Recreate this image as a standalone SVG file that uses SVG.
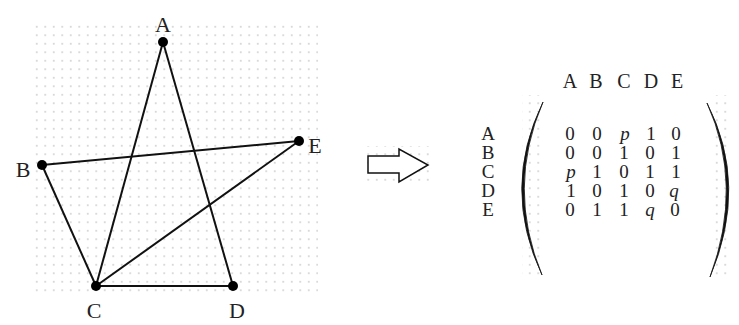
<svg xmlns="http://www.w3.org/2000/svg" width="739" height="325" viewBox="0 0 739 325">
<defs>
<pattern id="dots" x="33" y="23" width="8.5" height="8.5" patternUnits="userSpaceOnUse">
<rect x="3" y="3" width="1.5" height="1.5" fill="#c4c4c4"/>
</pattern>
<style>
.lbl{font-family:"Liberation Serif",serif;font-size:22px;fill:#222;}
.m{font-family:"Liberation Serif",serif;font-size:19px;fill:#222;text-anchor:middle;}
.h{font-family:"Liberation Serif",serif;font-size:20px;fill:#222;text-anchor:middle;}
.it{font-style:italic;}
.edge{stroke:#111;stroke-width:2;fill:none;}
.node{fill:#000;}
.paren{fill:#111;stroke:#111;stroke-width:0.8;}
</style>
</defs>
<rect width="739" height="325" fill="#fff"/>
<rect x="33" y="23" width="285" height="272" fill="url(#dots)"/>
<rect x="522" y="95" width="20" height="185" fill="url(#dots)"/>
<rect x="710" y="95" width="22" height="185" fill="url(#dots)"/>
<rect x="362" y="146" width="70" height="40" fill="url(#dots)"/>
<g id="connectors">
<line class="edge" x1="163" y1="42" x2="96" y2="286"/>
<line class="edge" x1="163" y1="42" x2="233" y2="286"/>
<line class="edge" x1="42" y1="165" x2="299" y2="141"/>
<line class="edge" x1="42" y1="165" x2="96" y2="286"/>
<line class="edge" x1="96" y1="286" x2="299" y2="141"/>
<line class="edge" x1="96" y1="286" x2="233" y2="286" stroke-width="2.5"/>
</g>
<g id="node-A"><circle class="node" cx="163" cy="42" r="5"/><text class="lbl" x="163" y="32" text-anchor="middle">A</text></g>
<g id="node-B"><circle class="node" cx="42" cy="165" r="5"/><text class="lbl" x="23" y="177" text-anchor="middle">B</text></g>
<g id="node-C"><circle class="node" cx="96" cy="286" r="5"/><text class="lbl" x="94" y="318" text-anchor="middle">C</text></g>
<g id="node-D"><circle class="node" cx="233" cy="286" r="5"/><text class="lbl" x="237" y="318" text-anchor="middle">D</text></g>
<g id="node-E"><circle class="node" cx="299" cy="141" r="5"/><text class="lbl" x="315" y="153" text-anchor="middle">E</text></g>
<g id="arrow">
<path d="M368,156 H399 V149 L428,165 L399,182 V173 H368 Z" fill="#fff" stroke="#111" stroke-width="1.5" stroke-linejoin="miter"/>
</g>
<g id="matrix">
<g class="h">
<text x="570" y="88">A</text><text x="596" y="88">B</text><text x="624" y="88">C</text><text x="651" y="88">D</text><text x="677" y="88">E</text>
</g>
<g class="m">
<text x="488" y="140">A</text><text x="488" y="159">B</text><text x="488" y="178">C</text><text x="488" y="197">D</text><text x="488" y="216">E</text>
</g>
<path class="paren" d="M543,102 Q501,188 542,275 Q506,188 543,102 Z"/>
<path class="paren" d="M707,103 Q749,185 710,277 Q744,185 707,103 Z"/>
<g class="m">
<text x="570" y="140">0</text><text x="597" y="140">0</text><text class="it" x="625" y="140">p</text><text x="651" y="140">1</text><text x="676" y="140">0</text>
<text x="570" y="159">0</text><text x="597" y="159">0</text><text x="624" y="159">1</text><text x="650" y="159">0</text><text x="676" y="159">1</text>
<text class="it" x="571" y="178">p</text><text x="597" y="178">1</text><text x="624" y="178">0</text><text x="650" y="178">1</text><text x="676" y="178">1</text>
<text x="571" y="197">1</text><text x="597" y="197">0</text><text x="624" y="197">1</text><text x="650" y="197">0</text><text class="it" x="674" y="197">q</text>
<text x="570" y="216">0</text><text x="597" y="216">1</text><text x="624" y="216">1</text><text class="it" x="650" y="216">q</text><text x="675" y="216">0</text>
</g>
</g>
</svg>
